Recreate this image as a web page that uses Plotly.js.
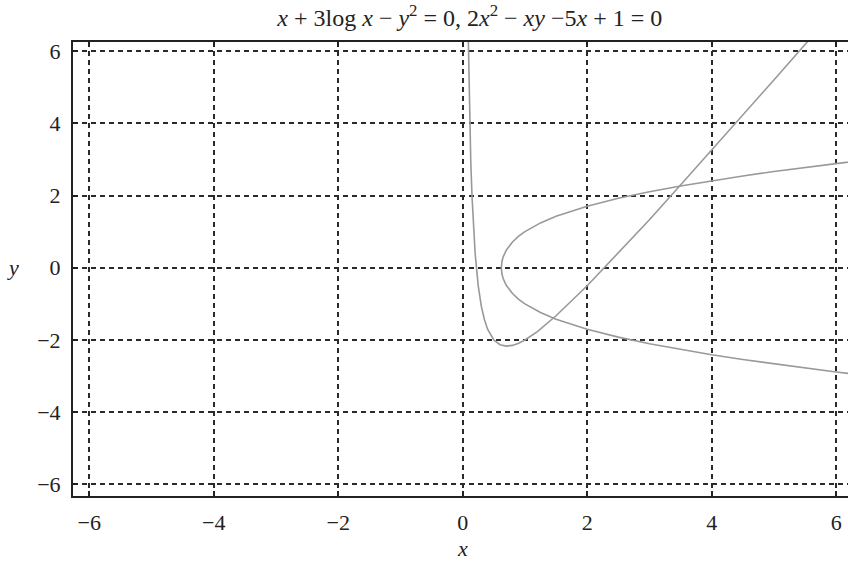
<!DOCTYPE html>
<html>
<head>
<meta charset="utf-8">
<script src="https://cdn.plot.ly/plotly-3.0.1.min.js"></script>
<style>
  html, body { margin: 0; padding: 0; background: #fff; overflow: hidden; }
  #chart { width: 848px; height: 561px; }
</style>
</head>
<body>
<div id="chart"></div>
<script>
// x + 3log x - y^2 = 0  (upper branch -> vertex -> lower branch)
const logCurveX = [6.5, 6, 5.5, 5, 4.5, 4, 3.5, 3, 2.5, 2, 1.5, 1.25, 1, 0.9, 0.8, 0.7, 0.65, 0.63, 0.621,
  0.63, 0.65, 0.7, 0.8, 0.9, 1, 1.25, 1.5, 2, 2.5, 3, 3.5, 4, 4.5, 5, 5.5, 6, 6.5];
const logCurveY = [2.99, 2.887, 2.779, 2.664, 2.542, 2.41, 2.265, 2.105, 1.922, 1.704, 1.424, 1.241, 1, 0.873, 0.714, 0.485, 0.298, 0.167, 0,
  -0.167, -0.298, -0.485, -0.714, -0.873, -1, -1.241, -1.424, -1.704, -1.922, -2.105, -2.265, -2.41, -2.542, -2.664, -2.779, -2.887, -2.99];

// 2x^2 - xy - 5x + 1 = 0
const hypCurveX = [0.088, 0.094, 0.1, 0.11, 0.12, 0.13, 0.15, 0.17, 0.2, 0.25, 0.3, 0.35, 0.4, 0.5, 0.6, 0.7,
  0.8, 0.9, 1, 1.2, 1.5, 2, 2.5, 3, 3.5, 4, 4.5, 5, 5.5, 5.6];
const hypCurveY = [6.54, 5.83, 5.2, 4.31, 3.57, 2.95, 1.97, 1.22, 0.4, -0.5, -1.07, -1.44, -1.7, -2.0, -2.13, -2.17,
  -2.15, -2.09, -2, -1.77, -1.33, -0.5, 0.4, 1.33, 2.29, 3.25, 4.22, 5.2, 6.18, 6.38];

const tickVals = [-6, -4, -2, 0, 2, 4, 6];

const serif = "'Liberation Serif', 'Times New Roman', serif";
const curveStyle = { color: '#999999', width: 1.6 };

const traces = [
  { x: logCurveX, y: logCurveY, mode: 'lines', line: curveStyle, hoverinfo: 'none' },
  { x: hypCurveX, y: hypCurveY, mode: 'lines', line: curveStyle, hoverinfo: 'none' }
];

const axisCommon = {
  tickvals: tickVals,
  showgrid: true,
  gridcolor: '#2a2a2a',
  gridwidth: 2,
  griddash: '5px,4px',
  zeroline: false,
  showline: true,
  linecolor: '#222',
  linewidth: 2,
  ticks: 'inside',
  ticklen: 5,
  tickwidth: 2,
  tickcolor: '#222',
  tickfont: { family: serif, size: 22, color: '#222' }
};

const layout = {
  width: 848,
  height: 561,
  margin: { l: 73, r: 0, t: 42, b: 65 },
  paper_bgcolor: '#fff',
  plot_bgcolor: '#fff',
  showlegend: false,
  title: {
    text: '<i>x</i> + 3log <i>x</i> − <i>y</i><sup>2</sup> = 0, 2<i>x</i><sup>2</sup> − <i>xy</i> −5<i>x</i> + 1 = 0',
    font: { family: serif, size: 24, color: '#222' },
    xref: 'container', x: 0.554, xanchor: 'center',
    yref: 'container', y: 0.968, yanchor: 'middle'
  },
  xaxis: Object.assign({}, axisCommon, {
    range: [-6.26, 6.19],
    mirror: 'ticks',
    ticklabelstandoff: 6
  }),
  yaxis: Object.assign({}, axisCommon, {
    range: [-6.32, 6.25],
    mirror: false,
    ticklabelstandoff: 6
  }),
  annotations: [
    { text: '<i>x</i>', xref: 'x', x: 0, yref: 'paper', y: -0.115, yanchor: 'middle',
      showarrow: false, font: { family: serif, size: 22, color: '#222' } },
    { text: '<i>y</i>', xref: 'paper', x: -0.077, xanchor: 'center', yref: 'y', y: 0,
      showarrow: false, font: { family: serif, size: 22, color: '#222' } }
  ]
};

Plotly.newPlot('chart', traces, layout, { displayModeBar: false, staticPlot: true });
</script>
</body>
</html>
